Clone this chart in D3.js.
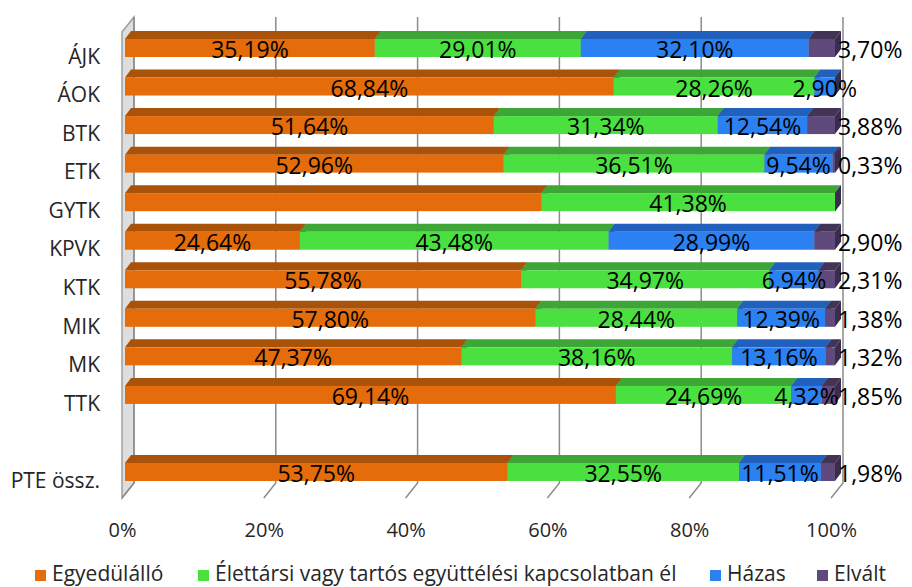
<!DOCTYPE html>
<html>
<head>
<meta charset="utf-8">
<script src="https://cdn.jsdelivr.net/npm/d3@7"></script>
<style>
  html, body { margin: 0; padding: 0; background: #fff; }
  svg { display: block; font-family: "Open Sans", sans-serif; }
</style>
</head>
<body>
<div id="chart"></div>
<script>
// 100% stacked 3D bar chart - family status by faculty
const categories = ["ÁJK", "ÁOK", "BTK", "ETK", "GYTK", "KPVK", "KTK", "MIK", "MK", "TTK", "PTE össz."]
const seriesNames = ["Egyedülálló", "Élettársi vagy tartós együttélési kapcsolatban él", "Házas", "Elvált"]
const egyedulallo = [35.19, 68.84, 51.64, 52.96, 58.62, 24.64, 55.78, 57.80, 47.37, 69.14, 53.75]
const elettarsi = [29.01, 28.26, 31.34, 36.51, 41.38, 43.48, 34.97, 28.44, 38.16, 24.69, 32.55]
const hazas = [32.10, 2.90, 12.54, 9.54, 0, 28.99, 6.94, 12.39, 13.16, 4.32, 11.51]
const elvalt = [3.70, 0, 3.88, 0.33, 0, 2.90, 2.31, 1.38, 1.32, 1.85, 1.98]
const xTicks = [0, 20, 40, 60, 80, 100]
// label not shown in the source picture
const hiddenLabels = [["GYTK", 0]]

const FRONT = ["#e46c0a", "#4ae040", "#2b80f2", "#5f4a7b"]
const TOP = ["#a9520a", "#3da636", "#2160bd", "#433456"]
const SIDE = ["#8a4208", "#2f8a2a", "#1a4f9e", "#3a2c4c"]

const width = 912
const height = 587

// row keys: blank slot between TTK and the total
const rowKeys = [...categories.slice(0, 10), "__gap", categories[10]]

const rows = categories.map((c, i) => ({
  cat: c,
  s0: egyedulallo[i],
  s1: elettarsi[i],
  s2: hazas[i],
  s3: elvalt[i]
}))
const keys = ["s0", "s1", "s2", "s3"]
const stacked = d3.stack().keys(keys).offset(d3.stackOffsetExpand)(rows)

const svg = d3.select("#chart")
  .append("svg")
  .attr("width", width)
  .attr("height", height)

// scales
const xFront = d3.scaleLinear().domain([0, 100]).range([122, 831])
const xBar = d3.scaleLinear().domain([0, 1]).range([125, 835])
const yRow = d3.scalePoint().domain(rowKeys).range([48, 472])
const DX = 12, DY = -15        // wall depth
const BDX = 6, BDY = -8        // bar depth
const HALF = 9                 // half height of front face
const wallTop = 32, floorY = 498

// left wall
svg.append("polygon")
  .attr("points", [
    [xFront(0), wallTop], [xFront(0) + DX, wallTop + DY],
    [xFront(0) + DX, floorY + DY], [xFront(0), floorY]
  ].map(p => p.join(",")).join(" "))
  .attr("fill", "#dedede")
  .attr("stroke", "#a0a0a0")
  .attr("stroke-width", 1.5)

// gridlines on the back wall + floor diagonals
const grid = svg.append("g").attr("class", "grid")
xTicks.forEach(t => {
  const xb = xFront(t) + DX
  grid.append("polyline")
    .attr("points", `${xb},${wallTop + DY} ${xb},${floorY + DY} ${xFront(t)},${floorY}`)
    .attr("fill", "none")
    .attr("stroke", "#8c8c8c")
    .attr("stroke-width", 1.5)
})

// bars
const bars = svg.append("g").attr("class", "bars")
rows.forEach((r, i) => {
  const c = yRow(r.cat)
  const yT = c - HALF, yB = c + HALF
  stacked.forEach((layer, k) => {
    const x0 = xBar(layer[i][0]), x1 = xBar(layer[i][1])
    // top face
    bars.append("polygon")
      .attr("points", `${x0},${yT} ${x0 + BDX},${yT + BDY} ${x1 + BDX},${yT + BDY} ${x1},${yT}`)
      .attr("fill", TOP[k])
    // front face
    bars.append("rect")
      .attr("x", x0).attr("y", yT)
      .attr("width", x1 - x0).attr("height", yB - yT)
      .attr("fill", FRONT[k])
    // right side face
    bars.append("polygon")
      .attr("points", `${x1},${yT} ${x1 + BDX},${yT + BDY} ${x1 + BDX},${yB + BDY} ${x1},${yB}`)
      .attr("fill", SIDE[k])
  })
})

// data labels
const fmt = v => v.toFixed(2).replace(".", ",") + "%"
const labels = svg.append("g").attr("class", "labels")
  .attr("font-size", "23px")
  .attr("fill", "#000")
rows.forEach((r, i) => {
  const c = yRow(r.cat)
  stacked.forEach((layer, k) => {
    const v = r[keys[k]]
    if (!v) return
    if (hiddenLabels.some(h => h[0] === r.cat && h[1] === k)) return
    const x0 = xBar(layer[i][0]), x1 = xBar(layer[i][1])
    const last = k === keys.length - 1
    labels.append("text")
      .attr("x", last ? xBar(1) + 3 : (x0 + x1) / 2)
      .attr("y", c + 10)
      .attr("text-anchor", last ? "start" : "middle")
      .text(fmt(v))
  })
})

// category axis
const yAxis = d3.axisLeft(yRow)
  .tickSize(0)
  .tickPadding(0)
  .tickFormat(d => d === "__gap" ? "" : d)
svg.append("g")
  .attr("transform", `translate(100,8.5)`)
  .call(yAxis)
  .call(g => g.select(".domain").remove())
  .selectAll("text")
  .attr("font-family", "Open Sans, sans-serif")
  .attr("font-size", "21px")
  .attr("fill", "#262626")

// value axis
const xAxis = d3.axisBottom(xFront)
  .tickValues(xTicks)
  .tickSize(0)
  .tickPadding(0)
  .tickFormat(d => d + "%")
svg.append("g")
  .attr("transform", `translate(0,523)`)
  .call(xAxis)
  .call(g => g.select(".domain").remove())
  .selectAll("text")
  .attr("font-family", "Open Sans, sans-serif")
  .attr("font-size", "20px")
  .attr("fill", "#262626")

// legend
const legendX = [35, 198, 710, 817]
const legend = svg.append("g").attr("class", "legend")
seriesNames.forEach((name, k) => {
  legend.append("rect")
    .attr("x", legendX[k]).attr("y", 570)
    .attr("width", 11).attr("height", 11)
    .attr("fill", FRONT[k])
  legend.append("text")
    .attr("x", legendX[k] + 17)
    .attr("y", 581)
    .attr("font-size", "21px")
    .attr("fill", "#262626")
    .text(name)
})
</script>
</body>
</html>
